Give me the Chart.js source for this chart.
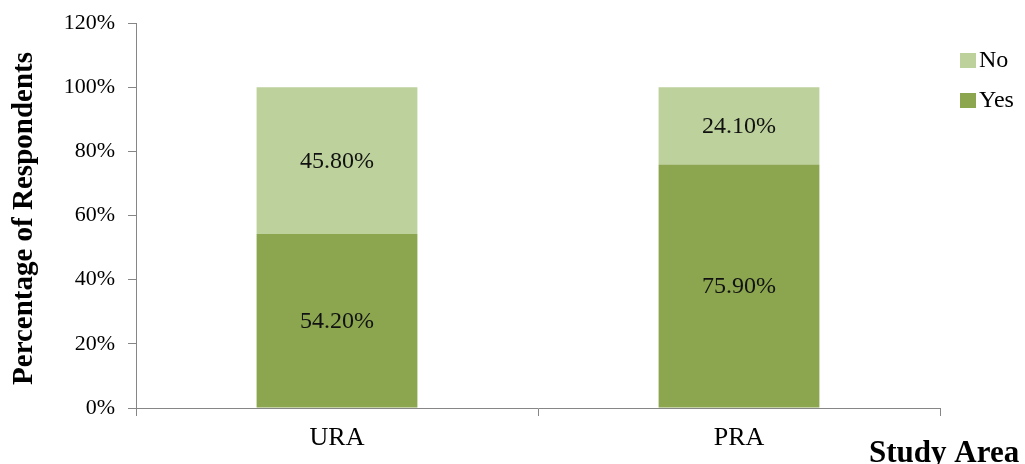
<!DOCTYPE html>
<html>
<head>
<meta charset="utf-8">
<script src="https://cdn.jsdelivr.net/npm/chart.js@4.4.1/dist/chart.umd.min.js"></script>
<style>
  html, body { margin: 0; padding: 0; background: #ffffff; }
  #wrap { width: 1025px; height: 464px; position: relative; }
</style>
</head>
<body>
<div id="wrap"><canvas id="chart" width="1025" height="464"></canvas></div>
<script>
// Study areas and share of respondents (%)
const categories = ['URA', 'PRA'];
const yesValues = [54.2, 75.9];
const noValues = [45.8, 24.1];
const yTicks = [0, 20, 40, 60, 80, 100, 120];

const yTitle = 'Percentage of Respondents';
const xTitle = 'Study Area';

const YES_COLOR = '#8ba64f';
const NO_COLOR = '#bcd19b';
const AXIS_COLOR = '#868686';
const SERIF = '"Liberation Serif", "Times New Roman", serif';

// Value labels centred in each stacked segment
const segmentLabels = {
  id: 'segmentLabels',
  afterDatasetsDraw(chart) {
    const ctx = chart.ctx;
    ctx.save();
    ctx.font = '24px ' + SERIF;
    ctx.fillStyle = '#111111';
    ctx.textAlign = 'center';
    ctx.textBaseline = 'middle';
    chart.data.datasets.forEach((ds, di) => {
      const meta = chart.getDatasetMeta(di);
      meta.data.forEach((bar, i) => {
        const p = bar.getProps(['x', 'y', 'base'], true);
        ctx.fillText(ds.data[i].toFixed(2) + '%', p.x, (p.y + p.base) / 2 + 1);
      });
    });
    ctx.restore();
  }
};

// Axis titles and the legend at the right edge
const decorations = {
  id: 'decorations',
  afterDraw(chart) {
    const ctx = chart.ctx;
    const area = chart.chartArea;
    ctx.save();
    ctx.fillStyle = '#000000';

    // y-axis title, rotated
    ctx.font = 'bold 29px ' + SERIF;
    ctx.textAlign = 'center';
    ctx.textBaseline = 'alphabetic';
    ctx.translate(32, (area.top + area.bottom) / 2 + 3);
    ctx.rotate(-Math.PI / 2);
    ctx.fillText(yTitle, 0, 0);
    ctx.setTransform(1, 0, 0, 1, 0, 0);

    // x-axis title, bottom right
    ctx.font = 'bold 31px ' + SERIF;
    ctx.textAlign = 'left';
    ctx.fillText(xTitle, 869, 462);

    // legend (series listed top-down in reverse stacking order)
    ctx.font = '24px ' + SERIF;
    ctx.textBaseline = 'middle';
    const items = chart.data.datasets.slice().reverse();
    items.forEach((ds, k) => {
      const cy = 60 + k * 40;
      ctx.fillStyle = ds.backgroundColor;
      ctx.fillRect(960, cy - 7, 16, 15);
      ctx.fillStyle = '#000000';
      ctx.fillText(ds.label, 979, cy + 1);
    });
    ctx.restore();
  }
};

new Chart(document.getElementById('chart'), {
  type: 'bar',
  data: {
    labels: categories,
    datasets: [
      { label: 'Yes', data: yesValues, backgroundColor: YES_COLOR, borderWidth: 0 },
      { label: 'No', data: noValues, backgroundColor: NO_COLOR, borderWidth: 0 }
    ]
  },
  options: {
    responsive: false,
    animation: false,
    devicePixelRatio: 1,
    layout: { padding: { top: 23, right: 85, left: 0, bottom: 0 } },
    datasets: { bar: { categoryPercentage: 1.0, barPercentage: 0.4 } },
    plugins: {
      legend: { display: false },
      tooltip: { enabled: false }
    },
    scales: {
      x: {
        stacked: true,
        offset: true,
        grid: {
          offset: true,
          drawOnChartArea: false,
          drawTicks: true,
          tickLength: 8,
          color: AXIS_COLOR
        },
        border: { display: true, color: AXIS_COLOR, width: 1 },
        ticks: {
          color: '#000000',
          font: { family: SERIF, size: 26 },
          padding: 7,
          maxRotation: 0
        },
        afterFit(scale) { scale.height = 56; scale.paddingRight = 0; scale.paddingLeft = 0; }
      },
      y: {
        stacked: true,
        min: 0,
        max: 120,
        afterBuildTicks(scale) { scale.ticks = yTicks.map(v => ({ value: v })); },
        grid: {
          drawOnChartArea: false,
          drawTicks: true,
          tickLength: 8,
          color: AXIS_COLOR
        },
        border: { display: true, color: AXIS_COLOR, width: 1 },
        ticks: {
          color: '#000000',
          font: { family: SERIF, size: 22 },
          padding: 13,
          callback: v => v + '%'
        },
        afterFit(scale) { scale.width = 136; scale.paddingTop = 0; scale.paddingBottom = 0; }
      }
    }
  },
  plugins: [segmentLabels, decorations]
});
</script>
</body>
</html>
